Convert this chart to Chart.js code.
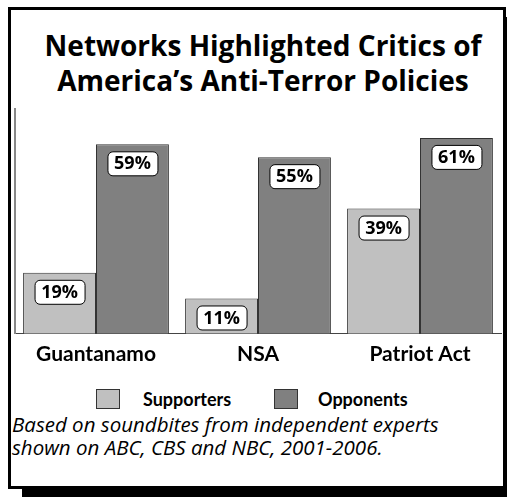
<!DOCTYPE html>
<html>
<head>
<meta charset="utf-8">
<script src="https://cdn.jsdelivr.net/npm/chart.js@4/dist/chart.umd.min.js"></script>
<style>
html, body { margin: 0; padding: 0; background: #fff; width: 507px; height: 497px; overflow: hidden; }
#frame { position: absolute; left: 8px; top: 7px; width: 492px; height: 476px; border: 3px solid #000; box-shadow: 14px 10px 0 #000; background: #fff; }
#title { position: absolute; left: 20px; width: 486px; top: 28px; text-align: center; font-family: "Open Sans", Lato, sans-serif; font-weight: bold; font-size: 28px; line-height: 35px; color: #000; white-space: nowrap; }
#chartBox { position: absolute; left: 11px; top: 100px; width: 493px; height: 275px; }
#legend { position: absolute; left: 0; top: 389px; width: 507px; height: 20px; font-family: Lato, "Open Sans", sans-serif; font-weight: bold; font-size: 18px; color: #000; }
.lg-box { position: absolute; top: 0; width: 22px; height: 18px; border: 1px solid #333; }
.lg-text { position: absolute; top: 0; line-height: 20px; }
#note { position: absolute; left: 12px; top: 413px; font-family: "Open Sans", Lato, sans-serif; font-style: italic; font-size: 20.5px; line-height: 23px; color: #000; white-space: nowrap; }
</style>
</head>
<body>
<div id="frame"></div>
<div id="title">Networks Highlighted Critics of<br>America’s Anti-Terror Policies</div>
<div id="chartBox"><canvas id="chart"></canvas></div>
<div id="legend"></div>
<div id="note">Based on soundbites from independent experts<br>shown on ABC, CBS and NBC, 2001-2006.</div>
<script>
const categories = ["Guantanamo", "NSA", "Patriot Act"];
const supporters = [19, 11, 39];
const opponents = [59, 55, 61];
const seriesNames = ["Supporters", "Opponents"];
const seriesColors = ["#c0c0c0", "#808080"];

// rounded white label boxes just under the top of each bar
const valueBoxes = {
    id: "valueBoxes",
    afterDatasetsDraw: function(chart) {
        var ctx = chart.ctx;
        ctx.save();
        ctx.font = "bold 18px 'Open Sans', Lato, sans-serif";
        ctx.textAlign = "center";
        ctx.textBaseline = "middle";
        chart.data.datasets.forEach(function(ds, i) {
            chart.getDatasetMeta(i).data.forEach(function(bar, j) {
                var w = 50, h = 24;
                var x = bar.x - w / 2;
                var y = bar.y + 7;
                ctx.beginPath();
                ctx.roundRect(x + 0.5, y + 0.5, w, h, 5);
                ctx.fillStyle = "#fff";
                ctx.fill();
                ctx.lineWidth = 1;
                ctx.strokeStyle = "#000";
                ctx.stroke();
                ctx.fillStyle = "#000";
                ctx.fillText(ds.data[j] + "%", bar.x, y + h / 2 + 1);
            });
        });
        ctx.restore();
    }
};

new Chart(document.getElementById("chart"), {
    type: "bar",
    data: {
        labels: categories,
        datasets: [
            { label: seriesNames[0], data: supporters, backgroundColor: seriesColors[0], borderColor: "#333", borderWidth: 1 },
            { label: seriesNames[1], data: opponents, backgroundColor: seriesColors[1], borderColor: "#333", borderWidth: 1 }
        ]
    },
    options: {
        responsive: true,
        maintainAspectRatio: false,
        animation: false,
        layout: { padding: { left: 4, right: 3, top: 9, bottom: 0 } },
        datasets: { bar: { categoryPercentage: 0.9, barPercentage: 1.0 } },
        plugins: { legend: { display: false }, tooltip: { enabled: false } },
        scales: {
            x: {
                grid: { display: false, drawTicks: false },
                border: { display: true, color: "#444", width: 1 },
                ticks: { color: "#000", padding: 8, font: { family: "Lato, 'Open Sans', sans-serif", weight: "bold", size: 21 } }
            },
            y: {
                min: 0,
                max: 70,
                grid: { display: false, drawTicks: false },
                border: { display: true, color: "#888", width: 2 },
                ticks: { display: false }
            }
        }
    },
    plugins: [valueBoxes]
});

var legendEl = document.getElementById("legend");
var legendPos = [[96, 143], [274, 318]];
seriesNames.forEach(function(name, i) {
    var box = document.createElement("div");
    box.className = "lg-box";
    box.style.left = legendPos[i][0] + "px";
    box.style.backgroundColor = seriesColors[i];
    legendEl.appendChild(box);
    var txt = document.createElement("div");
    txt.className = "lg-text";
    txt.style.left = legendPos[i][1] + "px";
    txt.textContent = name;
    legendEl.appendChild(txt);
});
</script>
</body>
</html>
